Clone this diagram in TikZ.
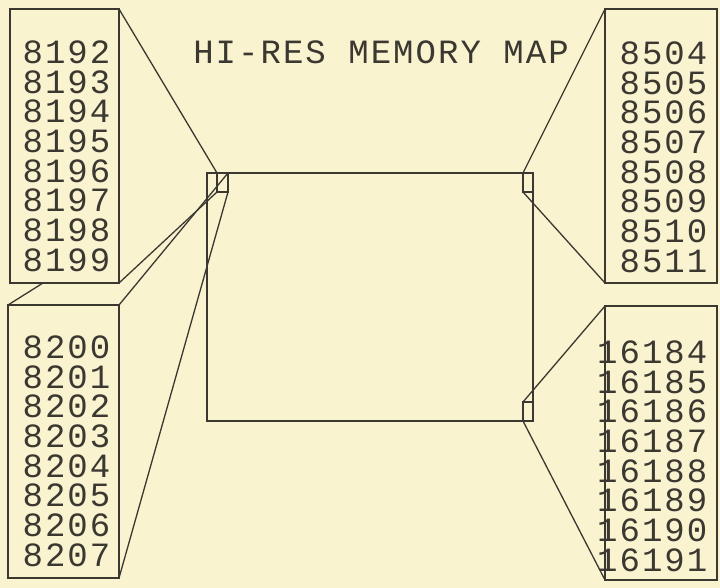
\documentclass[tikz,border=0pt]{standalone}
\usepackage{fontspec}
\newfontfamily\plotfont[LetterSpace=6]{Liberation Mono}
\definecolor{paper}{RGB}{250,243,208}
\definecolor{ink}{RGB}{58,56,48}

\begin{document}
\begin{tikzpicture}[x=1pt,y=-1pt,line width=1.3pt,
  box/.style={draw=ink,fill=paper,inner sep=0pt,outer sep=0pt,anchor=north west},
  num/.style={inner sep=0pt,text=ink,font=\fontsize{34}{29.7}\plotfont},
  ray/.style={draw=ink}]
% Background
\fill[paper] (0,0) rectangle (720,588);
\useasboundingbox (0,0) rectangle (720,588);
% Screen and the cells that are blown up
\node[box,minimum width=326pt,minimum height=248pt] (screen) at (207,173) {};
\node[box,minimum width=11pt,minimum height=19pt] (cellL) at (217,173) {};
\node[box,minimum width=10pt,minimum height=19pt] (cellR) at (523,173) {};
\node[box,minimum width=10pt,minimum height=19pt] (cellB) at (523,402) {};
% Byte columns
\node[box,minimum width=109pt,minimum height=274pt] (ul) at (10,9) {};
\node[box,minimum width=111pt,minimum height=273pt] (ll) at (8,305) {};
\node[box,minimum width=112pt,minimum height=274pt] (ur) at (605,9) {};
\node[box,minimum width=112pt,minimum height=274pt] (lr) at (605,306) {};
% Zoom lines
\coordinate (hid) at (43,283);
\draw[ray] (ul.north east) -- (cellL.north west);
\draw[ray] (ul.south east) -- (cellL.south west);
\draw[ray] (ll.north west) -- (hid);
\draw[ray] (ll.north east) -- (cellL.north east);
\draw[ray] (ll.south east) -- (cellL.south east);
\draw[ray] (ur.north west) -- (cellR.north west);
\draw[ray] (ur.south west) -- (cellR.south west);
\draw[ray] (lr.north west) -- (cellB.north west);
\draw[ray] (lr.south west) -- (cellB.south west);
% Title
\node[num,anchor=base] (title) at (381,64) {HI-RES MEMORY MAP};
% Addresses
\node[num,align=left,anchor=north west] (ulnum) at (22,40)
  {8192\\8193\\8194\\8195\\8196\\8197\\8198\\8199};
\node[num,align=left,anchor=north west] (llnum) at (22,335)
  {8200\\8201\\8202\\8203\\8204\\8205\\8206\\8207};
\node[num,align=right,anchor=north east] (urnum) at (708,41)
  {8504\\8505\\8506\\8507\\8508\\8509\\8510\\8511};
\node[num,align=right,anchor=north east] (lrnum) at (708,340)
  {16184\\16185\\16186\\16187\\16188\\16189\\16190\\16191};
\end{tikzpicture}
\end{document}
